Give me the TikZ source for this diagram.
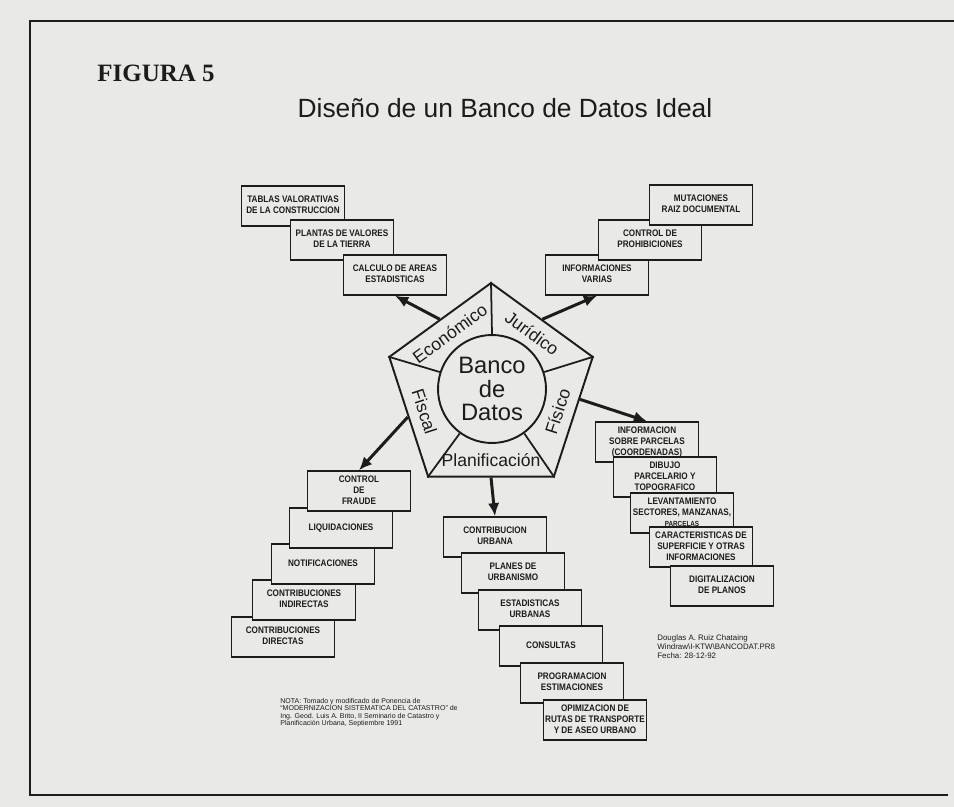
\documentclass[tikz,border=0pt]{standalone}
\usepackage{fontspec}
\usepackage{graphicx}
\usepackage{xcolor}
\usepackage{tikz}
\usetikzlibrary{shapes,arrows.meta}
\setmainfont{Liberation Sans}
\newfontfamily\romana{Liberation Serif}
\definecolor{papel}{RGB}{233,233,230}
\definecolor{tinta}{RGB}{28,28,28}
\newcommand{\bt}[1]{\scalebox{0.86}[1]{\begin{tabular}{@{}c@{}}#1\end{tabular}}}

\begin{document}
\begin{tikzpicture}
[x=0.02cm, y=-0.02cm, color=tinta]
\tikzset{
	caja/.style = {rectangle, draw, line width = 0.8pt, fill = papel, minimum width = 2.06cm, minimum height = 0.8cm, inner sep = 0pt, font = \bfseries\fontsize{5.4}{6.4}\selectfont},
	sector/.style = {inner sep = 0pt, font = \fontsize{10}{12}\selectfont},
	flecha/.style = {line width = 1.7pt, -{Latex[length=7.5pt,width=6.5pt]}},
	nota/.style = {anchor = north west, align = left, inner sep = 0pt}
}

\fill[papel] (0,0) rectangle (954,807);
\useasboundingbox (0,0) rectangle (954,807);
\draw[line width = 1.7pt] (954,21) -- (30,21) -- (30,795) -- (948,795);

\node (fig) at (156,73) {\romana\bfseries\fontsize{14.2}{16}\selectfont FIGURA 5};
\node (tit) at (505,108) {\fontsize{15}{18}\selectfont Diseño de un Banco de Datos Ideal};

\node (e1) [caja] at (293,206) {\bt{TABLAS VALORATIVAS\\DE LA CONSTRUCCION}};
\node (e2) [caja] at (342,240) {\bt{PLANTAS DE VALORES\\DE LA TIERRA}};
\node (e3) [caja] at (395,275) {\bt{CALCULO DE AREAS\\ESTADISTICAS}};

\node (j3) [caja] at (597,275) {\bt{INFORMACIONES\\VARIAS}};
\node (j2) [caja] at (650,240) {\bt{CONTROL DE\\PROHIBICIONES}};
\node (j1) [caja] at (701,205) {\bt{MUTACIONES\\RAIZ DOCUMENTAL}};

\node (f1) [caja] at (647,442) {\bt{INFORMACION\\SOBRE PARCELAS\\(COORDENADAS)}};
\node (f2) [caja] at (665,477) {\bt{DIBUJO\\PARCELARIO Y\\TOPOGRAFICO}};
\node (f3) [caja] at (682,513) {\bt{LEVANTAMIENTO\\SECTORES, MANZANAS,\\{\fontsize{4.2}{6.4}\selectfont PARCELAS}}};
\node (f4) [caja] at (701,547) {\bt{CARACTERISTICAS DE\\SUPERFICIE Y OTRAS\\INFORMACIONES}};
\node (f5) [caja] at (722,586) {\bt{DIGITALIZACION\\DE PLANOS}};

\node (p1) [caja] at (495,537) {\bt{CONTRIBUCION\\URBANA}};
\node (p2) [caja] at (513,573) {\bt{PLANES DE\\URBANISMO}};
\node (p3) [caja] at (530,610) {\bt{ESTADISTICAS\\URBANAS}};
\node (p4) [caja] at (551,646) {\bt{CONSULTAS}};
\node (p5) [caja] at (572,683) {\bt{PROGRAMACION\\ESTIMACIONES}};
\node (p6) [caja] at (595,720) {\bt{OPIMIZACION DE\\RUTAS DE TRANSPORTE\\Y DE ASEO URBANO}};

\node (c5) [caja] at (283,637) {\bt{CONTRIBUCIONES\\DIRECTAS}};
\node (c4) [caja] at (304,600) {\bt{CONTRIBUCIONES\\INDIRECTAS}};
\node (c3) [caja] at (323,564) {\bt{NOTIFICACIONES}};
\node (c2) [caja] at (341,528) {\bt{LIQUIDACIONES}};
\node (c1) [caja] at (359,491) {\bt{CONTROL\\DE\\FRAUDE}};

\node (pent) [regular polygon, regular polygon sides = 5, draw, line width = 1.1pt, minimum size = 4.28cm, inner sep = 0pt] at (491,390) {};
\node (circ) [circle, draw, line width = 1.1pt, minimum size = 2.16cm, inner sep = 0pt, align = center, font = \fontsize{13.5}{13.3}\selectfont] at (492,389) {Banco\\de\\Datos};
\foreach \i/\a in {1/90, 2/162, 3/234, 4/306, 5/18}
	\draw[line width = 1pt] (pent.corner \i) -- (circ.\a);

\path (pent.center) ++(126:1.4cm) node (eco) [sector, rotate = 36] {Económico};
\path (pent.center) ++(54:1.4cm) node (jur) [sector, rotate = -36] {Jurídico};
\path (pent.center) ++(-18:1.4cm) node (fis) [sector, rotate = 72] {Físico};
\path (pent.center) ++(198:1.4cm) node (fsc) [sector, rotate = -72] {Fiscal};
\path (pent.center) ++(270:1.4cm) node (pla) [sector] {Planificación};

\draw[flecha] (pent.side 1) -- (e3.south);
\draw[flecha] (pent.side 5) -- (j3.south);
\draw[flecha] (pent.354) -- (f1.north);
\draw[flecha] (pent.side 2) -- (c1.north);
\draw[flecha] (pent.side 3) -- (p1.north);

\node (nota) [nota, font = \fontsize{4}{4.2}\selectfont] at (280,698) {NOTA: Tomado y modificado de Ponencia de\\``MODERNIZACION SISTEMATICA DEL CATASTRO'' de\\Ing. Geod. Luis A. Brito, II Seminario de Catastro y\\Planificación Urbana, Septiembre 1991};
\node (firma) [nota, font = \fontsize{4.5}{5.1}\selectfont] at (657,634) {Douglas A. Ruiz Chataing\\Windraw\textbackslash I-KTW\textbackslash BANCODAT.PR8\\Fecha: 28-12-92};
\end{tikzpicture}
\end{document}
